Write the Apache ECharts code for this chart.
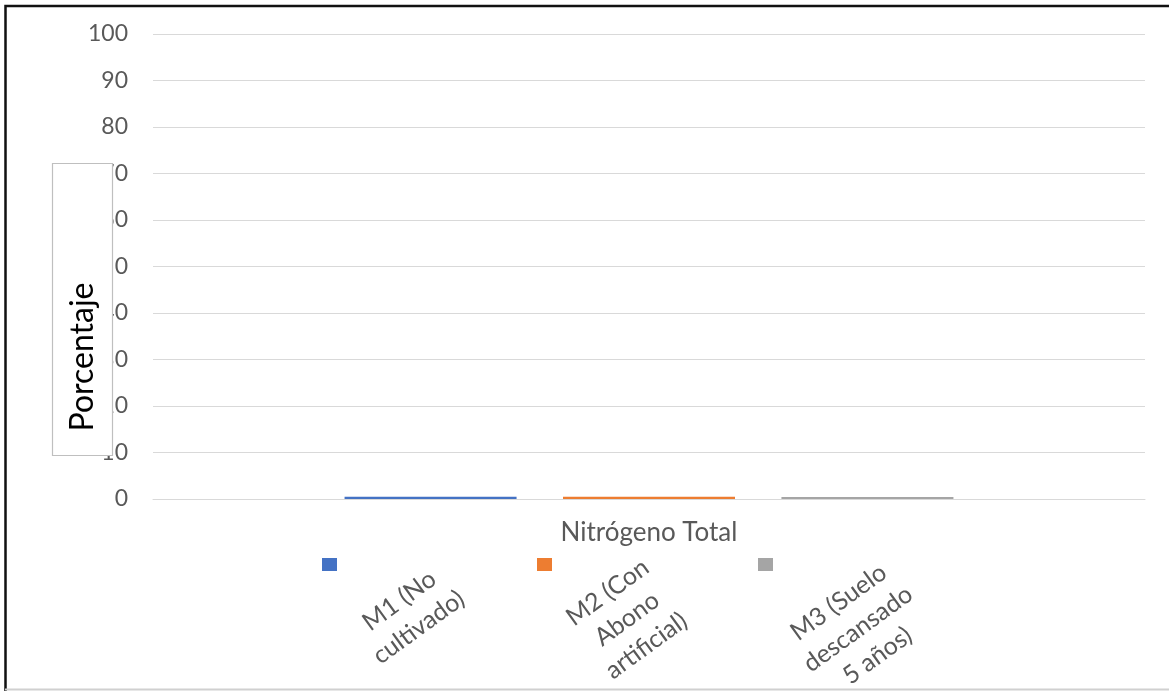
<!DOCTYPE html>
<html>
<head>
<meta charset="utf-8">
<script src="https://cdn.jsdelivr.net/npm/echarts@6/dist/echarts.min.js"></script>
<style>
  html, body { margin: 0; padding: 0; background: #fff; }
  #chart { width: 1169px; height: 691px; }
</style>
</head>
<body>
<div id="chart"></div>
<script>
// Category, series and tick data
const categories = ['Nitrógeno Total'];
const seriesNames = ['M1 (No cultivado)', 'M2 (Con Abono artificial)', 'M3 (Suelo descansado 5 años)'];
const legendLines = [
  'M1 (No\ncultivado)',
  'M2 (Con\nAbono\nartificial)',
  'M3 (Suelo\ndescansado\n5 años)'
];
const m1Values = [0.5];
const m2Values = [0.5];
const m3Values = [0.45];
const yTitle = 'Porcentaje';

const colors = ['#4472C4', '#ED7D31', '#A5A5A5'];
const textColor = '#595959';
const gridColor = '#D9D9D9';
const font = 'Lato, "Open Sans", sans-serif';

const seriesValues = [m1Values, m2Values, m3Values];

// Legend markers sit in a row below the category label
const legendLeft = [317, 532, 753];
const legendTextCenter = [[409, 614], [627, 619], [858, 629]];

const chart = echarts.init(document.getElementById('chart'), null, { renderer: 'canvas' });

const option = {
  backgroundColor: '#ffffff',
  animation: false,
  color: colors,
  grid: { left: 153, right: 24, top: 34, bottom: 192, containLabel: false },
  xAxis: {
    type: 'category',
    data: categories,
    axisLine: { show: true, lineStyle: { color: gridColor, width: 1 } },
    axisTick: { show: false },
    axisLabel: { color: textColor, fontFamily: font, fontSize: 26, margin: 21 }
  },
  yAxis: {
    type: 'value',
    min: 0,
    max: 100,
    interval: 10,
    axisLine: { show: false },
    axisTick: { show: false },
    axisLabel: { color: textColor, fontFamily: font, fontSize: 23, margin: 25 },
    splitLine: { lineStyle: { color: gridColor, width: 1 } }
  },
  legend: seriesNames.map((name, i) => ({
    data: [name],
    left: legendLeft[i],
    top: 553,
    icon: 'rect',
    itemWidth: 15,
    itemHeight: 13,
    selectedMode: false,
    formatter: () => '',
    textStyle: { fontSize: 1 }
  })),
  series: seriesNames.map((name, i) => ({
    name: name,
    type: 'bar',
    data: seriesValues[i],
    barWidth: 172,
    barGap: '27%',
    itemStyle: { color: colors[i] }
  })),
  graphic: [
    // Rotated legend captions
    ...legendLines.map((txt, i) => ({
      type: 'text',
      x: legendTextCenter[i][0],
      y: legendTextCenter[i][1],
      rotation: 36 * Math.PI / 180,
      z: 10,
      style: {
        text: txt,
        fill: textColor,
        font: '25px ' + font,
        align: 'center',
        verticalAlign: 'middle',
        lineHeight: 33
      }
    })),
    // Y-axis title in its bordered box
    {
      type: 'rect',
      z: 20,
      shape: { x: 52.5, y: 163.5, width: 60, height: 292 },
      style: { fill: '#ffffff', stroke: '#BFBFBF', lineWidth: 1.2 }
    },
    {
      type: 'text',
      z: 21,
      x: 83,
      y: 357,
      rotation: Math.PI / 2,
      style: {
        text: yTitle,
        fill: '#000000',
        font: '32px ' + font,
        align: 'center',
        verticalAlign: 'middle'
      }
    },
    // Outer frame
    {
      type: 'polyline',
      z: 30,
      shape: { points: [[5.5, 691], [5.5, 6], [1169, 6]] },
      style: { stroke: '#111111', lineWidth: 2.5, fill: null }
    },
    {
      type: 'line',
      z: 30,
      shape: { x1: 5, y1: 689.5, x2: 1169, y2: 689.5 },
      style: { stroke: '#D0D0D0', lineWidth: 2 }
    }
  ]
};

chart.setOption(option);
</script>
</body>
</html>
